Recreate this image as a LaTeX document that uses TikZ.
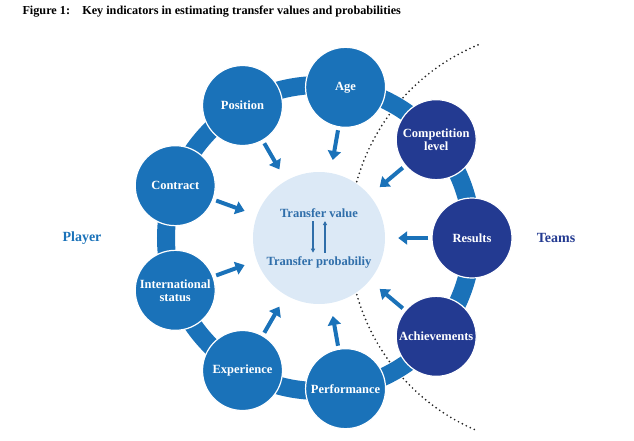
\documentclass[tikz,border=0pt]{standalone}
\usepackage{fontspec}
\setmainfont{Liberation Serif}
\usetikzlibrary{arrows.meta}

\definecolor{midblue}{HTML}{1A72B9}
\definecolor{navyblue}{HTML}{233A91}
\definecolor{paleblue}{HTML}{DCE9F6}
\definecolor{coretext}{HTML}{2F6EAA}

\begin{document}
\begin{tikzpicture}[x=1pt,y=1pt,
    player/.style={circle,fill=midblue,draw=white,line width=1.2pt,minimum size=80pt,inner sep=0pt,
        text=white,align=center,font=\bfseries\fontsize{12.5}{13}\selectfont},
    team/.style={player,fill=navyblue},
    feed/.style={-{Triangle[length=9pt,width=13pt]},line width=4pt,midblue,shorten <=3pt,shorten >=13pt}]
                \useasboundingbox (-319,-202) rectangle (315,238);
                \node[anchor=west,font=\bfseries\fontsize{12.2}{12}\selectfont] (title) at (-300,226)
                    {Figure 1:\quad Key indicators in estimating transfer values and probabilities};
                % dotted border between player and team factors
                \draw[black!85,line width=1.9pt,line cap=round,dash pattern=on 0pt off 4.4pt]
                    (239,0) ++(112.5:209) arc[start angle=112.5,end angle=247.5,radius=209];
                \draw[midblue,line width=18pt] (0,0) circle (153);
                \node[circle,fill=paleblue,minimum size=132pt,inner sep=0pt] (core) at (0,0) {};
                \node[text=coretext,font=\bfseries\fontsize{12.5}{12}\selectfont] (tv) at (0,25) {Transfer value};
                \node[text=coretext,font=\bfseries\fontsize{12.5}{12}\selectfont] (tp) at (0,-24) {Transfer probabiliy};
                \draw[-{Triangle[length=4pt,width=4pt]},coretext,line width=1.1pt] ([xshift=-6pt]tv.south) to ([xshift=-6pt]tp.north);
                \draw[-{Triangle[length=4pt,width=4pt]},coretext,line width=1.1pt] ([xshift=6pt]tp.north) to ([xshift=6pt]tv.south);
                \node[team] (results) at (0:153) {Results};
                \node[team] (comp) at (40:153) {Competition\\level};
                \node[player] (age) at (80:153) {Age};
                \node[player] (pos) at (120:153) {Position};
                \node[player] (contract) at (160:153) {Contract};
                \node[player] (intl) at (200:153) {International\\status};
                \node[player] (exp) at (240:153) {Experience};
                \node[player] (perf) at (280:153) {Performance};
                \node[team] (achieve) at (320:153) {Achievements};
                \draw[feed] (results) to (core);
                \draw[feed] (comp) to (core);
                \draw[feed] (age) to (core);
                \draw[feed] (pos) to (core);
                \draw[feed] (contract) to (core);
                \draw[feed] (intl) to (core);
                \draw[feed] (exp) to (core);
                \draw[feed] (perf) to (core);
                \draw[feed] (achieve) to (core);
                \node[text=midblue,font=\bfseries\fontsize{14}{14}\selectfont] (player) at (-237,0) {Player};
                \node[text=navyblue,font=\bfseries\fontsize{14}{14}\selectfont] (teams) at (237,0) {Teams};
            \end{tikzpicture}
\end{document}
